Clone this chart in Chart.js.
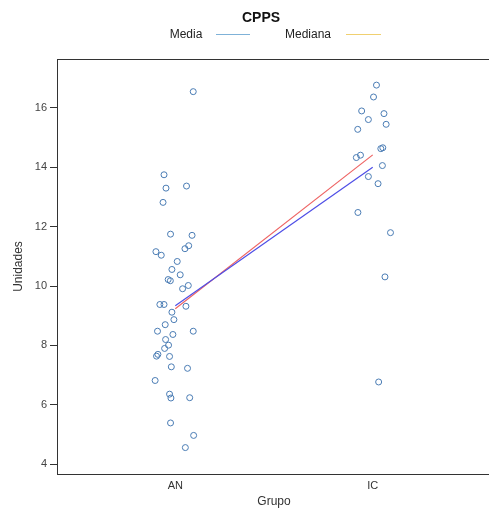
<!DOCTYPE html>
<html>
<head>
<meta charset="utf-8">
<script src="https://cdn.jsdelivr.net/npm/chart.js@4/dist/chart.umd.min.js"></script>
<style>
  html, body { margin: 0; padding: 0; background: #fff; overflow: hidden; }
  #wrap { width: 496px; height: 510px; }
</style>
</head>
<body>
<div id="wrap"><canvas id="c" width="496" height="510"></canvas></div>
<script>
// Groups on the x axis (positions 1 and 2)
const groups = ['AN', 'IC'];
const yTicks = [4, 6, 8, 10, 12, 14, 16];

// CPPS values per subject, with the horizontal jitter used to spread them
const anValues = [16.55, 13.75, 13.30, 13.37, 12.82, 11.75, 11.71, 11.16, 11.04, 11.26,
                  11.36, 10.83, 10.56, 10.38, 10.22, 10.18, 9.91, 10.02, 9.38, 9.38,
                  9.32, 9.12, 8.87, 8.70, 8.48, 8.37, 8.48, 8.20, 8.01, 7.90,
                  7.64, 7.70, 7.63, 7.28, 7.23, 6.82, 6.36, 6.23, 6.24, 5.39,
                  4.97, 4.56];
const anJitter = [0.091, -0.057, -0.047, 0.057, -0.062, -0.024, 0.085, -0.098, -0.071, 0.049,
                  0.068, 0.010, -0.017, 0.025, -0.036, -0.025, 0.037, 0.066, -0.078, -0.057,
                  0.054, -0.017, -0.007, -0.051, -0.090, -0.012, 0.091, -0.049, -0.034, -0.054,
                  -0.095, -0.088, -0.029, -0.020, 0.062, -0.102, -0.029, -0.022, 0.073, -0.024,
                  0.093, 0.051];
const icValues = [16.77, 16.37, 15.90, 15.81, 15.61, 15.45, 15.28, 14.63, 14.66, 14.33,
                  14.41, 14.06, 13.69, 13.45, 12.48, 11.80, 10.31, 6.77];
const icJitter = [0.019, 0.004, -0.056, 0.057, -0.022, 0.068, -0.076, 0.041, 0.051, -0.083,
                  -0.062, 0.049, -0.022, 0.027, -0.075, 0.090, 0.062, 0.030];

// Group summaries joined by lines
const mediaValues = [9.34, 14.00];
const medianaValues = [9.24, 14.42];

const points = [];
anValues.forEach((v, i) => points.push({ x: 1 + anJitter[i], y: v }));
icValues.forEach((v, i) => points.push({ x: 2 + icJitter[i], y: v }));

const font = "'Liberation Sans', Arial, sans-serif";

// Frame, title and legend in base-graphics style
const decorations = {
  id: 'decorations',
  afterDatasetsDraw(chart) {
    const { ctx, chartArea: a } = chart;
    ctx.save();
    ctx.strokeStyle = '#333';
    ctx.lineWidth = 1;
    ctx.strokeRect(Math.round(a.left) + 0.5, Math.round(a.top) + 0.5,
                   Math.round(a.right - a.left), Math.round(a.bottom - a.top));

    ctx.fillStyle = '#111';
    ctx.textAlign = 'center';
    ctx.textBaseline = 'middle';
    ctx.font = 'bold 14px ' + font;
    ctx.fillText('CPPS', 261, 18);

    ctx.font = '12px ' + font;
    ctx.fillStyle = '#222';
    ctx.fillText('Media', 186, 35);
    ctx.fillText('Mediana', 308, 35);
    ctx.lineWidth = 1.2;
    ctx.strokeStyle = '#7fb2d8';
    ctx.beginPath(); ctx.moveTo(216, 34.5); ctx.lineTo(250, 34.5); ctx.stroke();
    ctx.strokeStyle = '#f0d070';
    ctx.beginPath(); ctx.moveTo(346, 34.5); ctx.lineTo(381, 34.5); ctx.stroke();
    ctx.restore();
  }
};

new Chart(document.getElementById('c'), {
  type: 'scatter',
  data: {
    datasets: [
      {
        label: 'CPPS',
        data: points,
        pointStyle: 'circle',
        pointRadius: 3,
        pointBorderWidth: 1,
        pointBorderColor: '#4a7cb4',
        pointBackgroundColor: 'rgba(0,0,0,0)',
        showLine: false,
        order: 3
      },
      {
        label: 'Media',
        data: mediaValues.map((v, i) => ({ x: i + 1, y: v })),
        showLine: true,
        borderColor: '#4e4ee6',
        borderWidth: 1.2,
        pointRadius: 0,
        order: 1
      },
      {
        label: 'Mediana',
        data: medianaValues.map((v, i) => ({ x: i + 1, y: v })),
        showLine: true,
        borderColor: '#ee6464',
        borderWidth: 1.2,
        pointRadius: 0,
        order: 2
      }
    ]
  },
  options: {
    responsive: false,
    animation: false,
    layout: { padding: { left: 0, right: 5, top: 59, bottom: 0 } },
    plugins: {
      legend: { display: false },
      title: { display: false },
      tooltip: { enabled: false }
    },
    scales: {
      x: {
        type: 'linear',
        min: 0.401,
        max: 2.599,
        afterBuildTicks(scale) {
          scale.ticks = groups.map((g, i) => ({ value: i + 1 }));
        },
        afterFit(scale) { scale.height = 36; },
        grid: { display: false, drawTicks: false },
        border: { display: false },
        ticks: {
          padding: 5,
          color: '#333',
          font: { family: font, size: 11 },
          callback: (v) => groups[Math.round(v) - 1]
        },
        title: {
          display: true,
          text: 'Grupo',
          color: '#333',
          font: { family: font, size: 12 },
          padding: { top: 0, bottom: 1 }
        }
      },
      y: {
        min: 3.67,
        max: 17.65,
        afterBuildTicks(scale) {
          scale.ticks = yTicks.map(v => ({ value: v }));
        },
        afterFit(scale) { scale.width = 57; },
        grid: {
          drawOnChartArea: false,
          drawTicks: true,
          tickLength: 7,
          tickColor: '#333'
        },
        border: { display: false },
        ticks: {
          padding: 3,
          color: '#444',
          font: { family: font, size: 11 }
        },
        title: {
          display: true,
          text: 'Unidades',
          color: '#333',
          font: { family: font, size: 12 },
          padding: { top: 11, bottom: 0 }
        }
      }
    }
  },
  plugins: [decorations]
});
</script>
</body>
</html>
